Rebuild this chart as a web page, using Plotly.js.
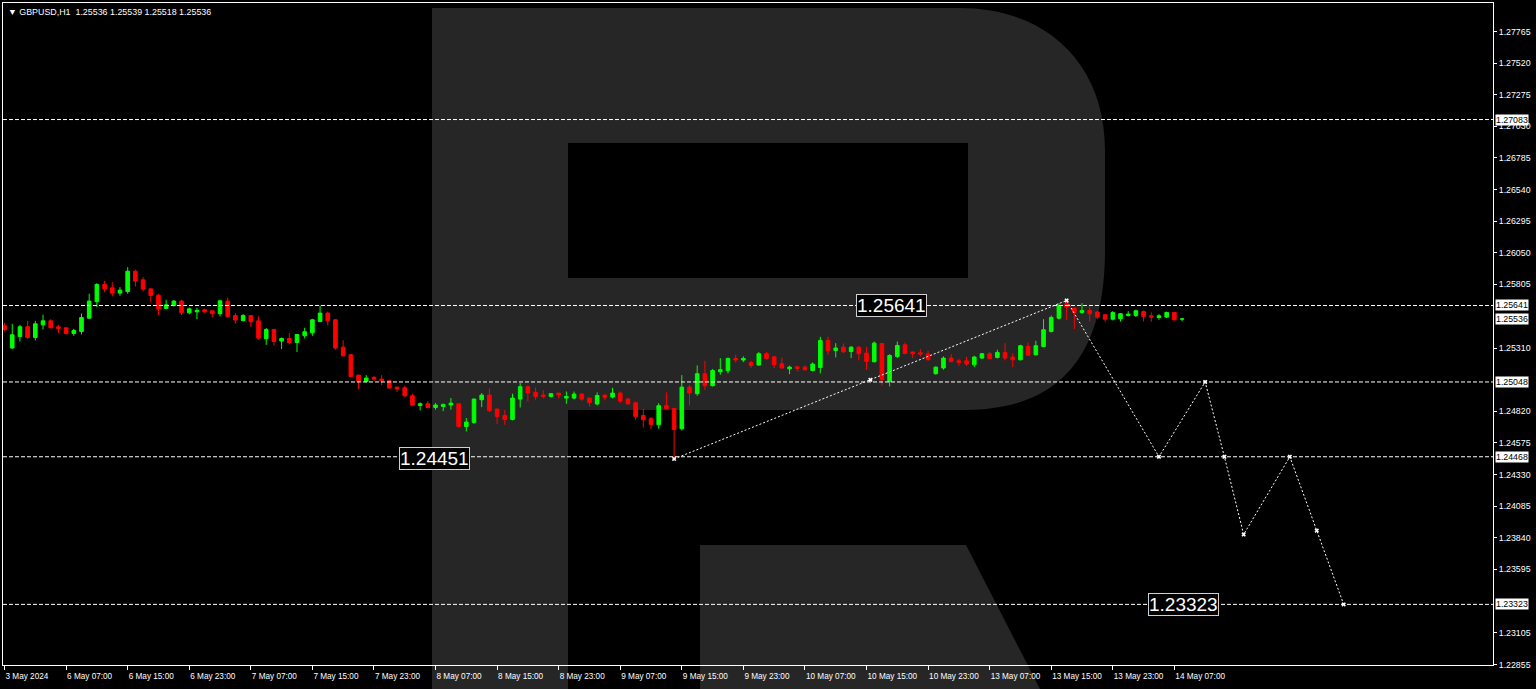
<!DOCTYPE html>
<html><head><meta charset="utf-8">
<script src="https://cdn.plot.ly/plotly-3.0.1.min.js"></script>
<style>html,body{margin:0;padding:0;background:#000;overflow:hidden}#chart{width:1536px;height:689px}</style>
</head><body><div id="chart"></div>
<script>
const symbolName = "GBPUSD,H1";
const lastBar = [1.25536, 1.25539, 1.25518, 1.25536];
const xTickLabels = ["3 May 2024","6 May 07:00","6 May 15:00","6 May 23:00","7 May 07:00","7 May 15:00","7 May 23:00","8 May 07:00","8 May 15:00","8 May 23:00","9 May 07:00","9 May 15:00","9 May 23:00","10 May 07:00","10 May 15:00","10 May 23:00","13 May 07:00","13 May 15:00","13 May 23:00","14 May 07:00"];
const openP = [1.25484,1.25311,1.25401,1.25476,1.25393,1.25491,1.25522,1.25476,1.25468,1.25424,
1.25439,1.25543,1.25670,1.25804,1.25778,1.25737,1.25749,1.25907,1.25840,1.25770,
1.25721,1.25618,1.25641,1.25675,1.25584,1.25592,1.25608,1.25600,1.25577,1.25675,
1.25563,1.25525,1.25563,1.25522,1.25383,1.25455,1.25365,1.25385,1.25354,1.25406,
1.25429,1.25517,1.25582,1.25530,1.25318,1.25259,1.25101,1.25052,1.25083,1.25070,
1.25057,1.25008,1.25003,1.24941,1.24866,1.24879,1.24850,1.24858,1.24869,1.24879,
1.24703,1.24734,1.24910,1.24946,1.24838,1.24788,1.24757,1.24915,1.25011,1.24967,
1.24946,1.24936,1.24962,1.24923,1.24923,1.24954,1.24923,1.24877,1.24946,1.24931,
1.24962,1.24915,1.24887,1.24788,1.24763,1.24716,1.24864,1.24843,1.24685,1.25008,
1.24957,1.25112,1.25019,1.25127,1.25135,1.25230,1.25218,1.25199,1.25179,1.25267,
1.25243,1.25189,1.25150,1.25166,1.25163,1.25137,1.25160,1.25370,1.25292,1.25318,
1.25284,1.25318,1.25272,1.25205,1.25346,1.25052,1.25246,1.25336,1.25280,1.25274,
1.25264,1.25112,1.25156,1.25233,1.25212,1.25212,1.25181,1.25233,1.25267,1.25238,
1.25277,1.25241,1.25220,1.25323,1.25259,1.25323,1.25439,1.25543,1.25654,1.25621,
1.25587,1.25602,1.25590,1.25569,1.25535,1.25538,1.25563,1.25563,1.25594,1.25561,
1.25548,1.25551,1.25587,1.25536];
const highP = [1.25507,1.25499,1.25491,1.25522,1.25522,1.25569,1.25535,1.25491,1.25468,1.25460,
1.25579,1.25732,1.25814,1.25832,1.25822,1.25783,1.25938,1.25918,1.25861,1.25770,
1.25732,1.25685,1.25683,1.25685,1.25625,1.25623,1.25615,1.25600,1.25683,1.25701,
1.25582,1.25574,1.25563,1.25556,1.25466,1.25460,1.25393,1.25429,1.25416,1.25468,
1.25538,1.25641,1.25594,1.25535,1.25371,1.25267,1.25101,1.25101,1.25096,1.25101,
1.25065,1.25008,1.25019,1.24957,1.24889,1.24900,1.24884,1.24879,1.24923,1.24879,
1.24768,1.24920,1.24962,1.24998,1.24838,1.24830,1.24957,1.25039,1.25019,1.25005,
1.24982,1.24962,1.24962,1.24974,1.24974,1.24959,1.24923,1.24967,1.24951,1.25003,
1.24974,1.24923,1.24895,1.24840,1.24776,1.24884,1.24967,1.24843,1.25101,1.25026,
1.25176,1.25212,1.25148,1.25233,1.25238,1.25259,1.25246,1.25212,1.25280,1.25280,
1.25249,1.25236,1.25174,1.25166,1.25176,1.25199,1.25398,1.25398,1.25349,1.25346,
1.25326,1.25326,1.25321,1.25362,1.25349,1.25264,1.25362,1.25354,1.25284,1.25303,
1.25290,1.25168,1.25246,1.25264,1.25228,1.25243,1.25251,1.25272,1.25280,1.25298,
1.25349,1.25272,1.25336,1.25354,1.25367,1.25535,1.25563,1.25659,1.25690,1.25621,
1.25659,1.25633,1.25600,1.25574,1.25597,1.25582,1.25597,1.25608,1.25602,1.25587,
1.25574,1.25592,1.25587,1.25539];
const lowP = [1.25445,1.25305,1.25362,1.25383,1.25370,1.25455,1.25463,1.25427,1.25416,1.25406,
1.25416,1.25538,1.25628,1.25745,1.25711,1.25716,1.25732,1.25788,1.25752,1.25664,
1.25566,1.25618,1.25633,1.25566,1.25574,1.25535,1.25584,1.25551,1.25556,1.25551,
1.25501,1.25517,1.25476,1.25375,1.25336,1.25329,1.25303,1.25339,1.25280,1.25385,
1.25406,1.25512,1.25486,1.25298,1.25246,1.25083,1.24993,1.25044,1.25052,1.25024,
1.24998,1.24970,1.24933,1.24864,1.24827,1.24843,1.24833,1.24822,1.24833,1.24693,
1.24664,1.24724,1.24853,1.24815,1.24722,1.24716,1.24750,1.24850,1.24897,1.24910,
1.24920,1.24926,1.24920,1.24879,1.24912,1.24902,1.24856,1.24866,1.24905,1.24920,
1.24884,1.24869,1.24755,1.24695,1.24683,1.24685,1.24835,1.24451,1.24672,1.24866,
1.24941,1.24988,1.25013,1.25104,1.25114,1.25199,1.25202,1.25156,1.25174,1.25220,
1.25156,1.25153,1.25109,1.25129,1.25135,1.25129,1.25114,1.25259,1.25238,1.25272,
1.25233,1.25215,1.25143,1.25199,1.25021,1.25013,1.25233,1.25264,1.25233,1.25246,
1.25215,1.25104,1.25143,1.25199,1.25174,1.25171,1.25163,1.25228,1.25225,1.25230,
1.25215,1.25163,1.25215,1.25251,1.25253,1.25318,1.25432,1.25532,1.25530,1.25458,
1.25577,1.25517,1.25535,1.25515,1.25525,1.25517,1.25556,1.25551,1.25517,1.25515,
1.25530,1.25543,1.25525,1.25518];
const closeP = [1.25453,1.25414,1.25476,1.25393,1.25499,1.25522,1.25468,1.25463,1.25424,1.25447,
1.25548,1.25675,1.25804,1.25770,1.25737,1.25760,1.25907,1.25830,1.25768,1.25718,
1.25615,1.25646,1.25675,1.25587,1.25615,1.25602,1.25592,1.25579,1.25677,1.25556,
1.25528,1.25563,1.25515,1.25388,1.25455,1.25362,1.25385,1.25354,1.25416,1.25437,
1.25530,1.25582,1.25522,1.25311,1.25251,1.25091,1.25052,1.25078,1.25070,1.25057,
1.25001,1.24993,1.24941,1.24869,1.24879,1.24850,1.24869,1.24874,1.24884,1.24703,
1.24737,1.24915,1.24946,1.24825,1.24781,1.24757,1.24923,1.25011,1.24962,1.24936,
1.24936,1.24957,1.24949,1.24936,1.24954,1.24915,1.24889,1.24943,1.24928,1.24962,
1.24900,1.24879,1.24781,1.24755,1.24719,1.24864,1.24840,1.24680,1.25008,1.24962,
1.25112,1.25019,1.25137,1.25143,1.25230,1.25218,1.25230,1.25176,1.25267,1.25230,
1.25181,1.25156,1.25163,1.25153,1.25143,1.25187,1.25370,1.25290,1.25311,1.25282,
1.25318,1.25267,1.25207,1.25349,1.25065,1.25253,1.25331,1.25269,1.25267,1.25264,
1.25220,1.25163,1.25233,1.25207,1.25199,1.25187,1.25241,1.25267,1.25230,1.25277,
1.25233,1.25220,1.25329,1.25256,1.25329,1.25453,1.25548,1.25641,1.25628,1.25587,
1.25602,1.25577,1.25551,1.25535,1.25587,1.25577,1.25574,1.25600,1.25556,1.25551,
1.25561,1.25587,1.25530,1.25536];
const levelPrices = [1.27083, 1.25641, 1.25048, 1.24468, 1.23323];
const currentPrice = 1.25536;
const yTickVals = [1.27765,1.27520,1.27275,1.27030,1.26785,1.26540,1.26295,1.26050,1.25805,1.25310,1.24820,1.24575,1.24330,1.24085,1.23840,1.23595,1.23105,1.22855];
const forecastBar = [87, 112.5, 138, 150, 156, 158.5, 161, 167, 170.5, 174];
const forecastPrice = [1.24451, 1.25065, 1.25680, 1.24468, 1.25048, 1.24468, 1.23865, 1.24468, 1.23895, 1.23323];
const calloutPrices = [1.25641, 1.24451, 1.23323];

// ---- drawing ----
const barIdx = openP.map((_, i) => i);
const FONT = "Liberation Sans, Arial, DejaVu Sans, sans-serif";
const ML = 3, MR = 43, MT = 3, MB = 24, W = 1536 - ML - MR, H = 689 - MT - MB;
function P(x, y) { return ((x - ML) / W).toFixed(5) + ',' + ((MT + H - y) / H).toFixed(5); }
const rPath = 'M' + P(432, 8) + ' L' + P(960, 8) + ' C' + P(1045, 8) + ' ' + P(1105, 62) + ' ' + P(1105, 150) +
  ' L' + P(1105, 250) + ' C' + P(1105, 355) + ' ' + P(1060, 410) + ' ' + P(965, 410) +
  ' L' + P(568, 410) + ' L' + P(568, 689) + ' L' + P(432, 689) + ' Z' +
  ' M' + P(568, 143) + ' L' + P(968, 143) + ' L' + P(968, 278) + ' L' + P(568, 278) + ' Z';
const legPath = 'M' + P(700, 545) + ' L' + P(966, 545) + ' L' + P(1040, 689) + ' L' + P(700, 689) + ' Z';

const shapes = [
  {type: 'path', xref: 'paper', yref: 'paper', path: rPath, fillcolor: '#262626', fillrule: 'evenodd', line: {width: 0}, layer: 'below'},
  {type: 'path', xref: 'paper', yref: 'paper', path: legPath, fillcolor: '#262626', line: {width: 0}, layer: 'below'}
];
levelPrices.forEach(p => shapes.push({type: 'line', xref: 'paper', yref: 'y', x0: 0, x1: 1, y0: p, y1: p,
  line: {color: '#ffffff', width: 1, dash: '4px,2px'}, layer: 'above'}));

const annotations = [];
annotations.push({xref: 'paper', yref: 'paper', x: 0, y: 1, xanchor: 'left', yanchor: 'top', xshift: 3, yshift: -2,
  text: '\u25BC ' + symbolName + '\u00a0\u00a0' + lastBar.map(v => v.toFixed(5)).join(' '), showarrow: false,
  font: {family: FONT, size: 8.9, color: '#ffffff'}});
const axisBoxes = levelPrices.concat([currentPrice]);
axisBoxes.forEach(p => annotations.push({xref: 'paper', yref: 'y', x: 1, y: p, xanchor: 'left', yanchor: 'middle', xshift: 2,
  text: p.toFixed(5), showarrow: false, bgcolor: '#ffffff', borderpad: 0, font: {family: FONT, size: 8.8, color: '#000000'}}));
const calloutX = [115.3, 55.9, 153.2];
calloutPrices.forEach((p, i) => annotations.push({xref: 'x', yref: 'y', x: calloutX[i], y: p, xanchor: 'center', yanchor: 'middle',
  text: p.toFixed(5), showarrow: false, bgcolor: '#000000', bordercolor: '#d0d0d0', borderwidth: 1, borderpad: 0,
  font: {family: FONT, size: 19, color: '#ffffff'}}));

const traces = [
  {type: 'candlestick', x: barIdx, open: openP, high: highP, low: lowP, close: closeP,
   increasing: {line: {color: '#00ff00', width: 1}, fillcolor: '#00ff00'},
   decreasing: {line: {color: '#ff0000', width: 1}, fillcolor: '#ff0000'},
   whiskerwidth: 0, hoverinfo: 'skip', showlegend: false},
  {type: 'scatter', mode: 'lines+markers', x: forecastBar, y: forecastPrice,
   line: {color: '#ffffff', width: 1, dash: '2px,2px'},
   marker: {color: '#ffffff', size: 4, symbol: 'x'}, hoverinfo: 'skip', showlegend: false}
];

const tickIdx = xTickLabels.map((_, i) => i * 8);
const layout = {
  width: 1536, height: 689,
  paper_bgcolor: '#000000', plot_bgcolor: '#000000',
  margin: {l: ML, r: MR, t: MT, b: MB, pad: 0},
  showlegend: false, boxgap: 0.33,
  font: {family: FONT, color: '#ffffff'},
  xaxis: {range: [-0.2, 193.4], tickmode: 'array', tickvals: tickIdx, ticktext: xTickLabels,
    ticks: 'outside', ticklen: 4, tickcolor: '#ffffff', ticklabelposition: 'outside right', ticklabelstandoff: 3,
    showline: true, linecolor: '#ffffff', linewidth: 1, mirror: true, showgrid: false, zeroline: false,
    tickfont: {family: FONT, size: 8.2, color: '#ffffff'}, rangeslider: {visible: false}, fixedrange: true},
  yaxis: {side: 'right', range: [1.22853, 1.279868], tickmode: 'array', tickvals: yTickVals,
    ticktext: yTickVals.map(v => v.toFixed(5)), ticks: 'outside', ticklen: 3, tickcolor: '#ffffff',
    showline: true, linecolor: '#ffffff', linewidth: 1, mirror: true, showgrid: false, zeroline: false,
    tickfont: {family: FONT, size: 8.8, color: '#ffffff'}, fixedrange: true},
  shapes: shapes, annotations: annotations
};
Plotly.newPlot('chart', traces, layout, {displayModeBar: false, staticPlot: true});
</script></body></html>
